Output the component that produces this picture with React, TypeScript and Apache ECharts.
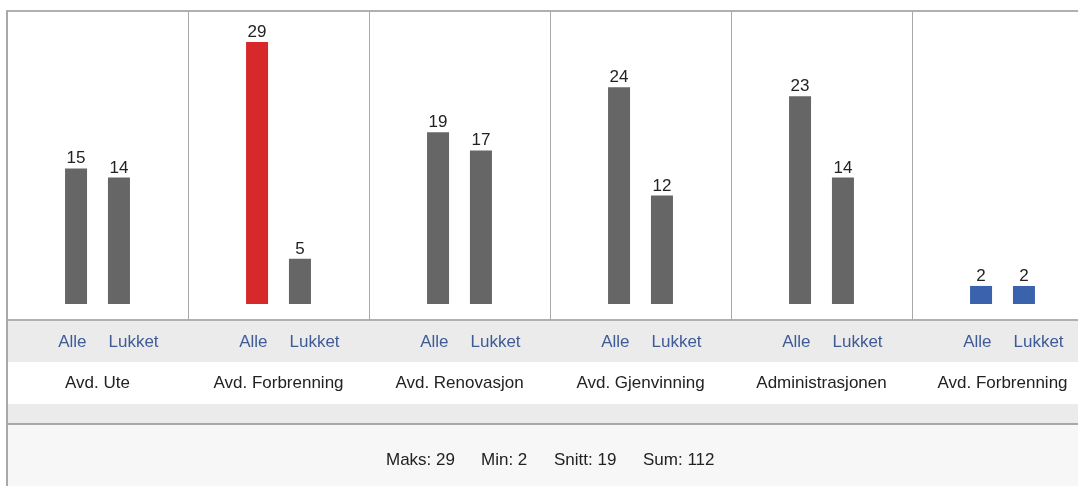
import React, { useEffect, useRef } from 'react';
import * as echarts from 'echarts';

const groups = ['Avd. Ute', 'Avd. Forbrenning', 'Avd. Renovasjon', 'Avd. Gjenvinning', 'Administrasjonen', 'Avd. Forbrenning'];
const seriesNames = ['Alle', 'Lukket'];
const alleValues = [15, 29, 19, 24, 23, 2];
const lukketValues = [14, 5, 17, 12, 14, 2];
const statLabels = ['Maks', 'Min', 'Snitt', 'Sum'];

const FONT = "'Liberation Sans', Arial, sans-serif";
const FS = 17;
const GRAY = '#666666';
const RED = '#d7292a';
const BLUE = '#3b63ad';
const LABEL_BLUE = '#3f5b96';
const TEXT = '#222222';

export default function App() {
  const ref = useRef<HTMLDivElement>(null);
  useEffect(() => {
    const chart = echarts.init(ref.current as HTMLDivElement, null, { renderer: 'svg' });
    const all = [...alleValues, ...lukketValues];
    const maxV = Math.max(...all);
    const minV = Math.min(...all);
    const sum = alleValues.reduce((a, b) => a + b, 0);
    const avg = Math.round(sum / alleValues.length);
    const statValues = [maxV, minV, avg, sum];
    const colorFor = (v: number) => (v === maxV ? RED : v === minV ? BLUE : GRAY);
    const mk = (vals: number[]) => vals.map((v) => ({ value: v, itemStyle: { color: colorFor(v) } }));
    const barLabel = { show: true, position: 'top', distance: 2, color: TEXT, fontSize: FS, fontFamily: FONT };

    chart.setOption({
      animation: false,
      grid: {
        left: 7, top: 11, width: 1086, height: 309, show: true,
        outerBoundsMode: 'none', containLabel: false,
        backgroundColor: '#ffffff', borderColor: '#b0b0b0', borderWidth: 2,
      },
      xAxis: {
        type: 'category',
        data: groups,
        axisLine: { show: false },
        axisTick: { show: false },
        axisLabel: { show: false },
        splitLine: { show: true, lineStyle: { color: '#a8a8a8', width: 1 } },
      },
      yAxis: { type: 'value', min: -1.77, max: 32.43, show: false },
      series: [
        { type: 'bar', name: seriesNames[0], data: mk(alleValues), barWidth: 22, barGap: '95%', label: barLabel },
        { type: 'bar', name: seriesNames[1], data: mk(lukketValues), barWidth: 22, barGap: '95%', label: barLabel },
      ],
    });

    const graphic: any[] = [
      { type: 'rect', shape: { x: 7, y: 321, width: 1090, height: 41 }, style: { fill: '#ebebeb' }, silent: true },
      { type: 'rect', shape: { x: 7, y: 404, width: 1090, height: 20 }, style: { fill: '#ebebeb' }, silent: true },
      { type: 'rect', shape: { x: 7, y: 425, width: 1090, height: 70 }, style: { fill: '#f7f7f7' }, silent: true },
      { type: 'line', shape: { x1: 7, y1: 424, x2: 1090, y2: 424 }, style: { stroke: '#a8a8a8', lineWidth: 2 }, silent: true },
      { type: 'line', shape: { x1: 7, y1: 11, x2: 7, y2: 490 }, style: { stroke: '#a8a8a8', lineWidth: 2 }, silent: true },
    ];
    groups.forEach((g, i) => {
      const cx = chart.convertToPixel({ xAxisIndex: 0 }, i) as number;
      graphic.push({
        type: 'text', x: cx - 11, y: 341,
        style: { text: seriesNames[0], fill: LABEL_BLUE, font: `${FS}px ${FONT}`, align: 'right', verticalAlign: 'middle' },
      });
      graphic.push({
        type: 'text', x: cx + 11, y: 341,
        style: { text: seriesNames[1], fill: LABEL_BLUE, font: `${FS}px ${FONT}`, align: 'left', verticalAlign: 'middle' },
      });
      graphic.push({
        type: 'text', x: cx, y: 382,
        style: { text: g, fill: TEXT, font: `${FS}px ${FONT}`, align: 'center', verticalAlign: 'middle' },
      });
    });
    const statX = [386, 481, 554, 643];
    statLabels.forEach((s, i) => {
      graphic.push({
        type: 'text', x: statX[i], y: 459,
        style: { text: `${s}: ${statValues[i]}`, fill: TEXT, font: `${FS}px ${FONT}`, align: 'left', verticalAlign: 'middle' },
      });
    });
    chart.setOption({ graphic });

    return () => chart.dispose();
  }, []);
  return <div ref={ref} style={{ position: 'fixed', left: 0, top: 0, width: 1078, height: 486 }} />;
}
